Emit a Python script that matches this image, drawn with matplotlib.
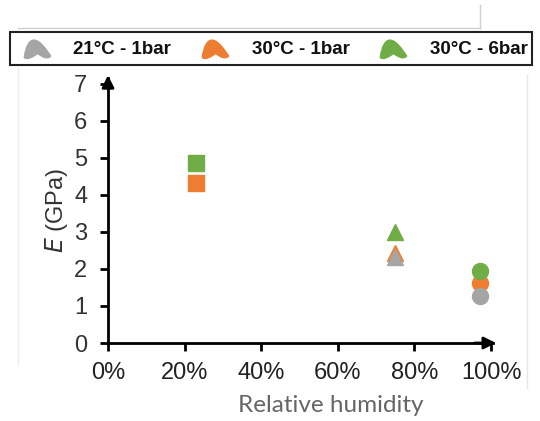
import matplotlib.pyplot as plt
from matplotlib.path import Path
from matplotlib.patches import Rectangle
from matplotlib.lines import Line2D

# relative humidity of the three conditions and the marker used for each
rh = [0.23, 0.75, 0.97]
rh_markers = ['s', '^', 'o']

series_names = ['21°C - 1bar', '30°C - 1bar', '30°C - 6bar']
series_colors = ['#A5A5A5', '#ED7D31', '#70AD47']
e_gray = [None, 2.33, 1.27]
e_orange = [4.32, 2.43, 1.62]
e_green = [4.87, 3.00, 1.95]
series_values = [e_gray, e_orange, e_green]
draw_order = [4, 3, 5]

x_ticks = [0, 0.2, 0.4, 0.6, 0.8, 1.0]
x_ticklabels = ['0%', '20%', '40%', '60%', '80%', '100%']
y_ticks = [0, 1, 2, 3, 4, 5, 6, 7]

plt.rcParams['font.family'] = ['Liberation Sans', 'DejaVu Sans']

fig = plt.figure(figsize=(5.4, 4.21), dpi=100)
W, H = 540, 421
ax = fig.add_axes([108 / W, 78 / H, 385 / W, 265 / H])

for vals, col, z in zip(series_values, series_colors, draw_order):
    for x, y, m in zip(rh, vals, rh_markers):
        if y is None:
            continue
        ms = 11 if m == 's' else 11.5
        ax.plot(x, y, marker=m, color=col, markersize=ms, linestyle='none',
                zorder=z, clip_on=False)

ax.set_xlim(0, 1.005)
ax.set_ylim(0, 7.15)
ax.set_xticks(x_ticks)
ax.set_xticklabels(x_ticklabels)
ax.set_yticks(y_ticks)
ax.tick_params(axis='both', labelsize=17, width=2, length=6, direction='out',
               colors='black')
ax.tick_params(axis='x', labelcolor='#222222', pad=8)
ax.tick_params(axis='y', labelcolor='#333333', pad=9)

for s in ['top', 'right']:
    ax.spines[s].set_visible(False)
for s in ['left', 'bottom']:
    ax.spines[s].set_linewidth(2)

# arrow heads on the axes
ax.annotate('', xy=(1.02, 0), xytext=(0.95, 0), xycoords='data',
            arrowprops=dict(arrowstyle='-|>', lw=2, color='black', mutation_scale=18),
            annotation_clip=False)
ax.annotate('', xy=(0, 7.3), xytext=(0, 6.8), xycoords='data',
            arrowprops=dict(arrowstyle='-|>', lw=2, color='black', mutation_scale=18),
            annotation_clip=False)

ax.set_ylabel('$\\mathit{E}$ (GPa)', fontsize=17, color='#333333')
ax.yaxis.set_label_coords(-0.1, 0.5)
fig.text(331 / W, 1 - 406 / H, 'Relative humidity', fontsize=17.5, color='#666666',
         ha='center', va='center', family=['Lato', 'DejaVu Sans'])

# legend band
blob = Path([(-1.0, -0.6),
             (-0.9, 0.2), (-0.6, 0.8), (-0.2, 0.7),
             (0.2, 0.65), (0.6, 0.1), (1.0, -0.5),
             (0.7, -0.8), (0.3, -0.5), (0.0, -0.3),
             (-0.4, -0.6), (-0.8, -0.8), (-1.0, -0.6),
             (-1.0, -0.6)],
            [Path.MOVETO] + [Path.CURVE4] * 12 + [Path.CLOSEPOLY])
fig.add_artist(Rectangle((10 / W, 1 - 65 / H), 522 / W, 33 / H, transform=fig.transFigure,
                         fill=False, edgecolor='#222222', linewidth=1.5))
marker_x = [37, 215, 393]
text_x = [73, 252, 430]
for name, col, mx, tx in zip(series_names, series_colors, marker_x, text_x):
    fig.add_artist(Line2D([mx / W], [1 - 49 / H], marker=blob, markersize=19,
                          color=col, linestyle='none', transform=fig.transFigure))
    fig.text(tx / W, 1 - 49 / H, name, fontsize=13.5, fontweight='bold',
             ha='left', va='center', color='#111111')

# faint frame lines from the source layout
grey = '#D0D0D0'
fig.add_artist(Line2D([18 / W, 480 / W], [1 - 28 / H, 1 - 28 / H], color=grey, lw=1,
                      transform=fig.transFigure))
fig.add_artist(Line2D([480 / W, 480 / W], [1 - 5 / H, 1 - 28 / H], color=grey, lw=1,
                      transform=fig.transFigure))
fig.add_artist(Line2D([18 / W, 18 / W], [1 - 67 / H, 1 - 365 / H], color='#EEEEEE', lw=1,
                      transform=fig.transFigure))
fig.add_artist(Line2D([527 / W, 527 / W], [1 - 75 / H, 1 - 388 / H], color='#E6E6E6', lw=1,
                      transform=fig.transFigure))

fig.savefig('out.png', dpi=100)
